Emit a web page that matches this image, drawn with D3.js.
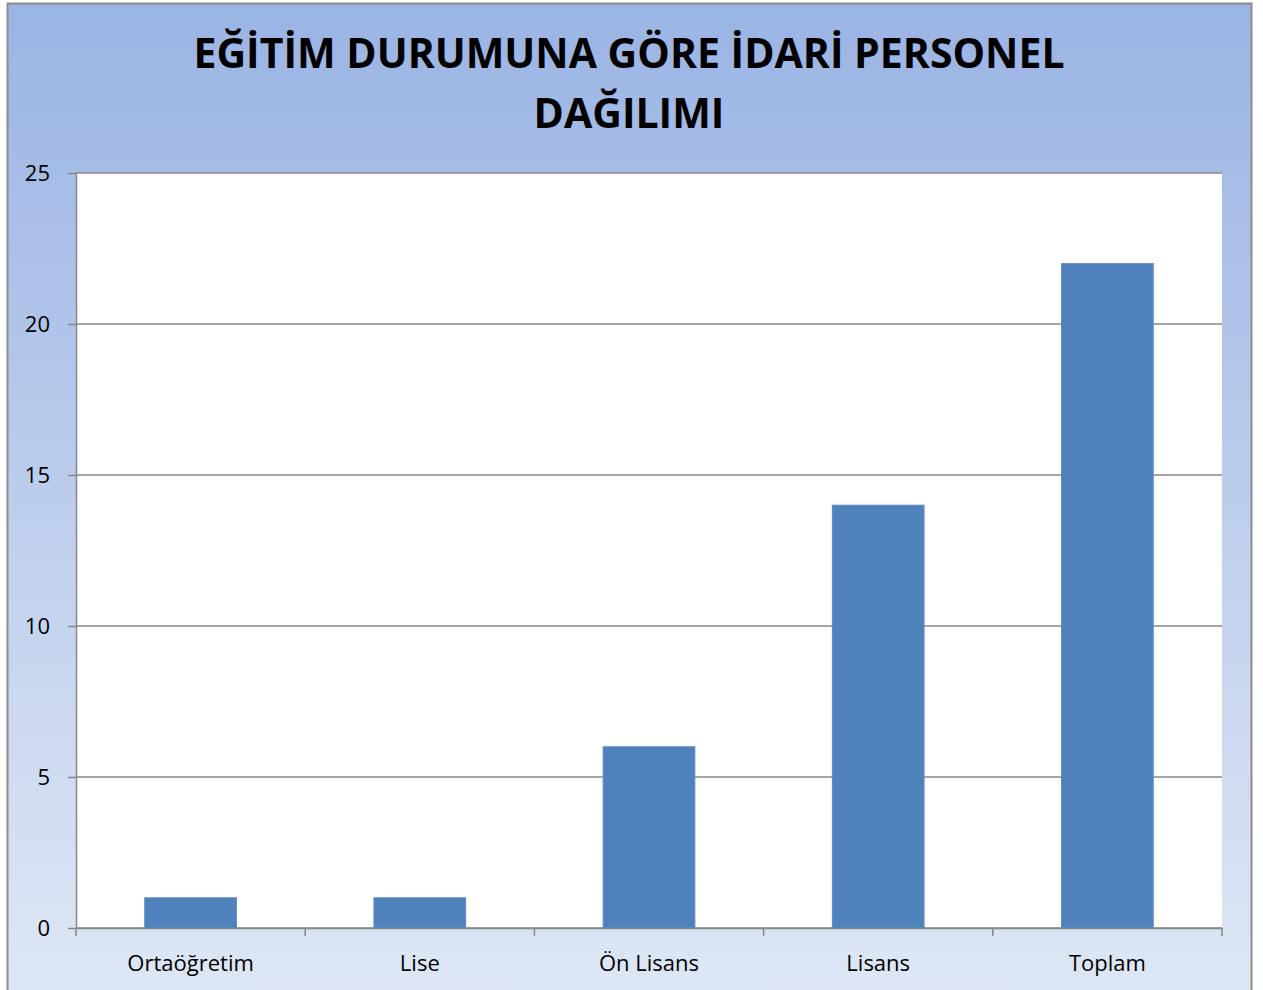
<!DOCTYPE html>
<html><head><meta charset="utf-8">
<script src="https://cdn.jsdelivr.net/npm/d3@7"></script>
<style>html,body{margin:0;padding:0;background:#fff;}svg{display:block;}</style>
</head><body>
<script>
const categories = ["Ortaöğretim", "Lise", "Ön Lisans", "Lisans", "Toplam"];
const values = [1, 1, 6, 14, 22];
const yTicks = [0, 5, 10, 15, 20, 25];
const titleLines = ["EĞİTİM DURUMUNA GÖRE İDARİ PERSONEL", "DAĞILIMI"];

const W = 1263, H = 990;
const svg = d3.select("body").append("svg").attr("width", W).attr("height", H);
const defs = svg.append("defs");
const grad = defs.append("linearGradient").attr("id", "bg").attr("x1", 0).attr("y1", 0).attr("x2", 0).attr("y2", 1);
grad.append("stop").attr("offset", "0%").attr("stop-color", "#9ab4e4");
grad.append("stop").attr("offset", "100%").attr("stop-color", "#dfe7f5");

svg.append("rect").attr("x", 7.5).attr("y", 3.5).attr("width", 1244).attr("height", 995)
  .attr("fill", "url(#bg)").attr("stroke", "#8c8c8c").attr("stroke-width", 2);

const m = {left: 76, right: 1222, top: 173, bottom: 928};
const x = d3.scaleBand().domain(categories).range([m.left, m.right]).paddingInner(0.6).paddingOuter(0.3);
const y = d3.scaleLinear().domain([0, 25]).range([m.bottom, m.top]);

svg.append("rect").attr("x", m.left).attr("y", m.top).attr("width", m.right - m.left).attr("height", m.bottom - m.top).attr("fill", "#fff");

// gridlines
svg.append("g").selectAll("line").data(yTicks).join("line")
  .attr("x1", m.left).attr("x2", m.right).attr("y1", d => y(d)).attr("y2", d => y(d))
  .attr("stroke", "#888").attr("stroke-width", 1.5);

// bars
svg.append("g").selectAll("rect").data(values).join("rect")
  .attr("x", (d, i) => x(categories[i])).attr("width", x.bandwidth())
  .attr("y", d => y(d)).attr("height", d => y(0) - y(d))
  .attr("fill", "#4f81bd").attr("stroke", "#5a8ac6").attr("stroke-width", 1);

// y axis
const yAxis = svg.append("g").attr("transform", `translate(${m.left},0)`)
  .call(d3.axisLeft(y).tickValues(yTicks).tickSize(8).tickPadding(18).tickSizeOuter(0));
yAxis.select(".domain").attr("stroke", "#888").attr("stroke-width", 1.5);
yAxis.selectAll(".tick line").attr("stroke", "#888").attr("stroke-width", 1.5);
yAxis.selectAll("text").attr("font-family", "'Open Sans', sans-serif").attr("font-size", 22).attr("fill", "#000");

// x axis
const xAxis = svg.append("g").attr("transform", `translate(0,${m.bottom})`)
  .call(d3.axisBottom(x).tickSize(0).tickPadding(27).tickSizeOuter(0));
xAxis.select(".domain").attr("stroke", "#888").attr("stroke-width", 1.5);
xAxis.selectAll("text").attr("font-family", "'Open Sans', sans-serif").attr("font-size", 22).attr("fill", "#000");
const bounds = d3.range(categories.length + 1).map(i => m.left + i * (m.right - m.left) / categories.length);
xAxis.selectAll("line.sep").data(bounds).join("line").attr("class", "sep")
  .attr("x1", d => d).attr("x2", d => d).attr("y1", 0).attr("y2", 8)
  .attr("stroke", "#888").attr("stroke-width", 1.5);

// title
const title = svg.append("g");
titleLines.forEach((t, i) => {
  title.append("text").attr("x", 629).attr("y", 68 + i * 60).attr("text-anchor", "middle")
    .attr("font-family", "'Open Sans', sans-serif").attr("font-weight", "bold").attr("font-size", 41)
    .attr("fill", "#000").text(t);
});
</script>
</body></html>
